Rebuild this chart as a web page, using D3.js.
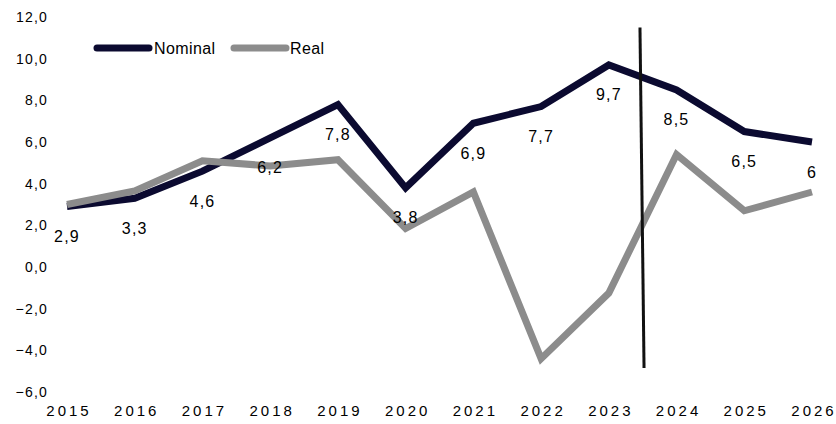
<!DOCTYPE html>
<html><head><meta charset="utf-8">
<script src="https://cdn.jsdelivr.net/npm/d3@7"></script>
<style>
body{margin:0;background:#fff;}
text{font-family:"Liberation Sans",Arial,sans-serif;fill:#000;}
</style></head>
<body><svg id="c" width="836" height="424"></svg>
<script>
const years = [2015,2016,2017,2018,2019,2020,2021,2022,2023,2024,2025,2026];
const nominal = [2.9,3.3,4.6,6.2,7.8,3.8,6.9,7.7,9.7,8.5,6.5,6.0];
const real = [3.0,3.65,5.1,4.85,5.15,1.85,3.6,-4.4,-1.25,5.4,2.7,3.6];
const nominalLabels = ["2,9","3,3","4,6","6,2","7,8","3,8","6,9","7,7","9,7","8,5","6,5","6"];
const yTicks = [12,10,8,6,4,2,0,-2,-4,-6];
const seriesNames = ["Nominal","Real"];
const colors = ["#0b0a30","#8c8c8c"];
const divider = [{year:2023.46, v:11.5},{year:2023.52, v:-4.85}];

const svg = d3.select("#c");
const x = d3.scaleLinear().domain([2015,2026]).range([67,812]);
const y = d3.scaleLinear().domain([-6,12]).range([392,17]);

// y axis labels
const yAxis = d3.axisLeft(y).tickValues(yTicks).tickSize(0).tickPadding(0)
  .tickFormat(d => d3.format(".1f")(d).replace(".",","));
const gy = svg.append("g").attr("transform","translate(48,0)").call(yAxis);
gy.select(".domain").remove();
gy.selectAll("text").style("font-family","Liberation Sans, Arial, sans-serif")
  .style("font-size","14px").style("letter-spacing","1.2px").attr("fill","#1a1a1a");

// x axis labels
const xAxis = d3.axisBottom(x).tickValues(years).tickSize(0).tickPadding(0).tickFormat(d3.format("d"));
const gx = svg.append("g").attr("transform","translate(0,405)").call(xAxis);
gx.select(".domain").remove();
gx.selectAll("text").style("font-family","Liberation Sans, Arial, sans-serif")
  .style("font-size","15px").style("letter-spacing","3px").attr("fill","#1a1a1a")
  .attr("dx","1.5px");

const line = d3.line().x((d,i)=>x(years[i])).y(d=>y(d));
svg.append("path").datum(nominal).attr("d",line).attr("fill","none")
  .attr("stroke",colors[0]).attr("stroke-width",7).attr("stroke-linejoin","miter");
svg.append("path").datum(real).attr("d",line).attr("fill","none")
  .attr("stroke",colors[1]).attr("stroke-width",7).attr("stroke-linejoin","miter");

// divider line
svg.append("line")
  .attr("x1",x(divider[0].year)).attr("y1",y(divider[0].v))
  .attr("x2",x(divider[1].year)).attr("y2",y(divider[1].v))
  .attr("stroke","#111").attr("stroke-width",3);

// data labels
svg.append("g").selectAll("text").data(nominal).join("text")
  .attr("x",(d,i)=>x(years[i]))
  .attr("y",d=>y(d)+30)
  .attr("text-anchor","middle").attr("dominant-baseline","central")
  .style("font-size","16px").style("letter-spacing","1.2px").attr("fill","#111")
  .text((d,i)=>nominalLabels[i]);

// legend
const leg = [{x:97,tx:154},{x:234,tx:290}];
seriesNames.forEach((n,i)=>{
  svg.append("line").attr("x1",leg[i].x).attr("x2",leg[i].x+52).attr("y1",48).attr("y2",48)
    .attr("stroke",colors[i]).attr("stroke-width",7).attr("stroke-linecap","round");
  svg.append("text").attr("x",leg[i].tx).attr("y",48).attr("dominant-baseline","central")
    .style("font-size","16px").style("letter-spacing","0.4px").attr("fill","#111").text(n);
});
</script></body></html>
